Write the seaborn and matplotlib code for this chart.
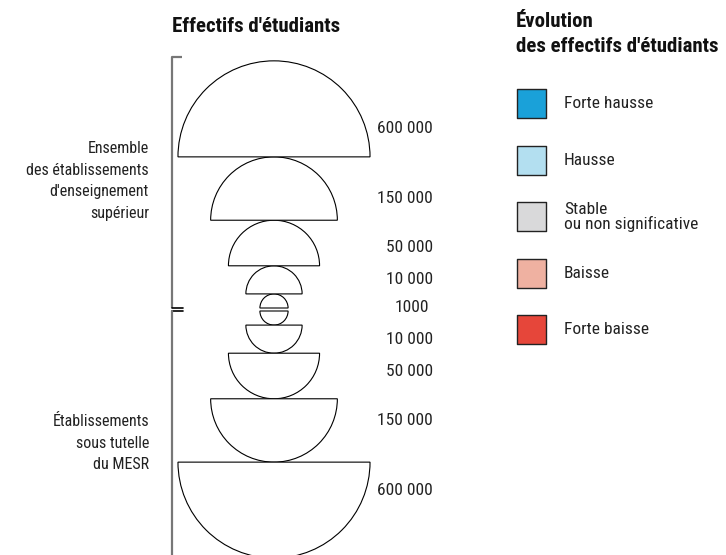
import numpy as np
import matplotlib
matplotlib.use("Agg")
import matplotlib.pyplot as plt
from matplotlib.patches import Wedge
import seaborn as sns
import pandas as pd

# données de la légende
sizes_top = [1000, 10000, 50000, 150000, 600000]      # Ensemble des établissements
sizes_bottom = [1000, 10000, 50000, 150000, 600000]   # Établissements sous tutelle
size_labels = {1000: "1000", 10000: "10 000", 50000: "50 000",
               150000: "150 000", 600000: "600 000"}
group_top = "Ensemble\ndes établissements\nd'enseignement\nsupérieur"
group_bottom = "Établissements\nsous tutelle\ndu MESR"

evol_labels = ["Forte hausse", "Hausse", "Stable\nou non significative",
               "Baisse", "Forte baisse"]
evol_colors = ["#1aa1d9", "#b3dff0", "#d9d9da", "#efb1a1", "#e6463a"]

sns.set_theme(style="white")
plt.rcParams['font.family'] = ['Roboto Condensed', 'Liberation Sans Narrow',
                               'Roboto', 'DejaVu Sans']
plt.rcParams['font.stretch'] = 'condensed'

fig = plt.figure(figsize=(7.26, 5.55), dpi=100)
ax = fig.add_axes([0, 0, 1, 1])
ax.set_xlim(0, 726)
ax.set_ylim(555, 0)
ax.set_aspect("equal")
ax.axis("off")

fs = 12.5
tcol = "#222222"


def radius(v):
    # échelle des symboles (en pixels)
    return 1.774 * v ** 0.3


cx = 274
lab_x = 433

# demi-cercles du haut
base = 308
for v in sizes_top:
    r = radius(v)
    ax.add_patch(Wedge((cx, base), r, 180, 360, facecolor="white",
                       edgecolor="black", linewidth=0.8))
    if v != 1000:
        ax.text(lab_x, base - 9 - 0.2 * r, size_labels[v], ha="right",
                va="center", fontsize=fs, color=tcol)
    base -= r

# demi-cercles du bas
base = 311
for v in sizes_bottom:
    r = radius(v)
    ax.add_patch(Wedge((cx, base), r, 0, 180, facecolor="white",
                       edgecolor="black", linewidth=0.8))
    if v != 1000:
        ax.text(lab_x, base + 9 + 0.2 * r, size_labels[v], ha="right",
                va="center", fontsize=fs, color=tcol)
    base += r

ax.text(lab_x - 4, 308, size_labels[1000], ha="right", va="center",
        fontsize=fs, color=tcol)

# accolades
ax.plot([182, 172, 172], [57, 57, 308], color="#777777", lw=1.6,
        solid_capstyle="butt")
ax.plot([172, 183], [308, 308], color="black", lw=1.2)
ax.plot([172, 183], [311, 311], color="black", lw=1.2)
ax.plot([172, 172], [311, 560], color="#777777", lw=1.6)

ax.text(149, 181, group_top, ha="right", va="center", fontsize=11.5,
        color=tcol, linespacing=1.55)
ax.text(149, 443, group_bottom, ha="right", va="center", fontsize=11.5,
        color=tcol, linespacing=1.55)

ax.text(172, 26, "Effectifs d'étudiants", ha="left", va="center",
        fontsize=15, fontweight="bold", color="#111111")
ax.text(516, 34, "Évolution\ndes effectifs d'étudiants", ha="left",
        va="center", fontsize=15, fontweight="bold", color="#111111",
        linespacing=1.45)

# carrés de la légende
leg = pd.DataFrame({"x": [531.5] * len(evol_labels),
                    "y": [103.5 + 56.6 * i for i in range(len(evol_labels))],
                    "cat": evol_labels})
sns.scatterplot(data=leg, x="x", y="y", hue="cat", palette=evol_colors,
                marker="s", s=430, edgecolor="#222222", linewidth=1.0,
                legend=False, ax=ax)
for i, lab in enumerate(evol_labels):
    ax.text(564, leg["y"][i], lab, ha="left", va="center", fontsize=fs,
            color=tcol, linespacing=0.95)

fig.savefig("out.png", dpi=100)
